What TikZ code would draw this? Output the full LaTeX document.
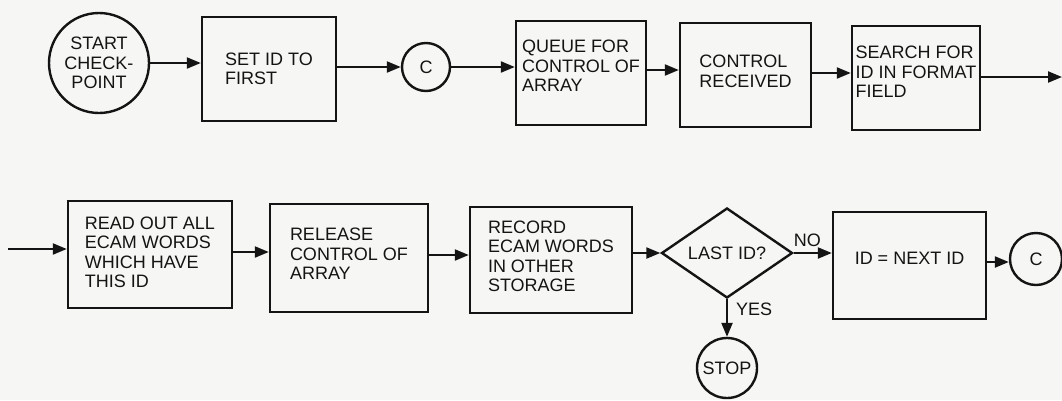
\documentclass[tikz,border=0pt]{standalone}
\usepackage{fontspec}
\setmainfont{Liberation Sans}
\usetikzlibrary{shapes.geometric,arrows.meta}
\definecolor{paper}{RGB}{246,246,244}
\definecolor{ink}{RGB}{20,20,20}
\begin{document}
\begin{tikzpicture}[x=1pt,y=-1pt,
  every node/.style={font=\fontsize{18}{19.5}\selectfont, text=ink},
  procbox/.style={draw=ink, line width=2.4pt, rectangle, align=left, inner sep=0pt},
  term/.style={draw=ink, line width=2.4pt, circle, align=center, inner sep=0pt},
  decide/.style={draw=ink, line width=2.4pt, diamond, inner sep=0pt, aspect=1.45},
  flow/.style={draw=ink, line width=2.2pt, -{Triangle[length=14pt,width=11pt]}},
  lbl/.style={inner sep=1pt}
]
\fill[paper] (0,0) rectangle (1062,400);
\useasboundingbox (0,0) rectangle (1062,400);

% top row
\node[term, minimum size=100pt] (start) at (99,63) {START\\CHECK-\\POINT};
\node[procbox, minimum width=134pt, minimum height=104pt] (set) at (269,69) {SET ID TO\\FIRST};
\node[term, minimum size=48pt] (c1) at (426,67) {C};
\node[procbox, minimum width=130pt, minimum height=104pt] (queue) at (581,73) {QUEUE FOR\\CONTROL OF\\ARRAY\\[-5.5pt]};
\node[procbox, minimum width=131pt, minimum height=104pt] (ctrl) at (745.5,75) {CONTROL\\RECEIVED\\[-11.5pt]};
\node[procbox, minimum width=128pt, minimum height=104pt] (search) at (916,78) {SEARCH FOR\\ID IN FORMAT\\FIELD\\[-7.5pt]};
\coordinate (exit) at (1062,77);

% bottom row
\coordinate (entry) at (8,249);
\node[procbox, minimum width=164pt, minimum height=107pt] (read) at (150,254.5) {READ OUT ALL\\ECAM WORDS\\WHICH HAVE\\THIS ID\\[-14.5pt]};
\node[procbox, minimum width=158pt, minimum height=108pt] (release) at (349,258) {RELEASE\\CONTROL OF\\ARRAY\\[-11.5pt]};
\node[procbox, minimum width=162pt, minimum height=106pt] (record) at (551,260) {RECORD\\ECAM WORDS\\IN OTHER\\STORAGE\\[-11.5pt]};
\node[decide, minimum width=131pt, minimum height=90pt] (dia) at (727,253) {LAST ID?};
\node[term, minimum size=60pt] (stop) at (727,368) {STOP};
\node[procbox, minimum width=153pt, minimum height=107pt] (idnext) at (909.5,265.5) {ID = NEXT ID\\[-5.5pt]};
\node[term, minimum size=52pt] (c2) at (1036,259) {C};

% connectors
\draw[flow] (start.east) -- (start.east -| set.west);
\draw[flow] (set.east |- c1.west) -- (c1.west);
\draw[flow] (c1.east) -- (c1.east -| queue.west);
\draw[flow] (queue.east |- 0,70) -- (ctrl.west |- 0,70);
\draw[flow] (ctrl.east |- 0,73) -- (search.west |- 0,73);
\draw[flow] (search.east |- exit) -- (exit);
\draw[flow] (entry) -- (entry -| read.west);
\draw[flow] (read.east |- 0,252) -- (release.west |- 0,252);
\draw[flow] (release.east |- 0,255) -- (record.west |- 0,255);
\draw[flow] (record.east |- dia.west) -- (dia.west);
\draw[flow] (dia.east) -- (dia.east -| idnext.west);
\draw[flow] (dia.south) -- (stop.north);
\draw[flow] (idnext.east |- 0,262) -- (c2.west |- 0,262);

\node[lbl, anchor=south west] (no) at ([xshift=-1pt,yshift=5pt]dia.east) {NO};
\node[lbl, anchor=north west] (yes) at ([xshift=8pt,yshift=-3pt]dia.south) {YES};
\end{tikzpicture}
\end{document}
